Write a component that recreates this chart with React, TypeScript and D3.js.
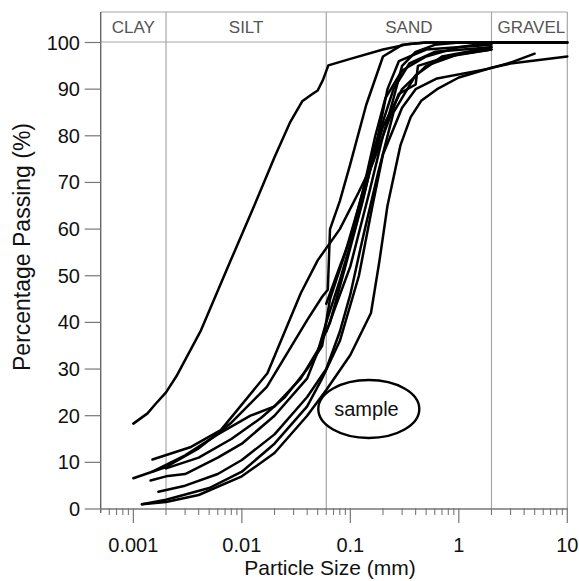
import React from "react";
import * as d3 from "d3";

type Pt = [number, number];

// Particle size (mm) / percentage passing pairs for each sample curve
const curveFine: Pt[] = [[0.001,18.3],[0.00135,20.5],[0.0016,22.5],[0.002,25],[0.0025,28.5],[0.0042,38.3],[0.0079,53.3],[0.013,65],[0.02,75.4],[0.028,83],[0.036,87.4],[0.045,89],[0.05,89.7],[0.056,92],[0.0627,95.1],[0.1,96.5],[0.2,98.5],[0.35,99.7],[0.5,100],[10,100]];
const curveB: Pt[] = [[0.0015,10.6],[0.0034,13.3],[0.0064,16.9],[0.0172,29.1],[0.035,46.3],[0.05,53.3],[0.08,60],[0.12,68],[0.16,74],[0.2,80],[0.25,88],[0.3,95],[0.4,98],[0.6,99.5],[1,100],[10,100]];
const curveC: Pt[] = [[0.001,6.6],[0.002,9],[0.004,13],[0.008,18.5],[0.017,26.2],[0.04,40.5],[0.055,45.5],[0.062,47],[0.065,60],[0.08,66],[0.1,74],[0.14,86.6],[0.2,97],[0.3,99.5],[0.5,100],[2,100]];
const curveE1: Pt[] = [[0.0012,1],[0.002,1.5],[0.004,3],[0.01,7],[0.02,12],[0.04,20],[0.06,25.5],[0.1,33],[0.155,42],[0.185,53],[0.22,65],[0.29,78],[0.36,84],[0.45,87.5],[0.63,90],[1,92.5],[2,94.6],[3,95.5],[10,97]];
const curveE2: Pt[] = [[0.0012,1],[0.002,2],[0.005,4.5],[0.01,8],[0.02,14],[0.04,22],[0.055,28],[0.08,36],[0.12,50],[0.16,65],[0.2,76],[0.3,86],[0.4,90],[0.63,92.3],[1.9,94.4],[3,95.7],[5,97.6]];
const curveE3: Pt[] = [[0.0017,3.7],[0.003,5],[0.006,7.5],[0.01,10.5],[0.02,16],[0.04,24],[0.06,30],[0.08,38],[0.1,46],[0.13,58],[0.18,72],[0.25,85],[0.4,93],[0.7,97],[2,99]];
const curveE4: Pt[] = [[0.00144,6.1],[0.002,7],[0.003,7.5],[0.006,11],[0.01,14],[0.02,20],[0.04,28],[0.05,33.7],[0.06,40],[0.08,49],[0.11,60],[0.15,72],[0.2,82],[0.3,90],[0.5,95],[1,97.5],[2,98.5]];
const curveE5: Pt[] = [[0.002,8.7],[0.004,11],[0.008,15],[0.015,19.5],[0.025,24],[0.04,30],[0.055,35],[0.065,45],[0.09,55],[0.12,65],[0.17,78],[0.25,90],[0.35,95.5],[0.6,98],[2,99]];
const curveE6: Pt[] = [[0.0015,8],[0.003,11.5],[0.006,16],[0.012,20],[0.02,22],[0.035,28],[0.05,34],[0.065,40],[0.09,52],[0.13,66],[0.18,80],[0.22,90],[0.28,96],[0.5,98.5],[2,99.5]];
const curveF1: Pt[] = [[0.06,44],[0.08,52],[0.1,58],[0.13,68],[0.17,80],[0.21,88],[0.3,94],[0.5,97],[1,99],[2,100],[10,100]];
const curveF2: Pt[] = [[0.06,38],[0.1,52],[0.15,68],[0.2,80],[0.28,89],[0.4,91],[0.42,95],[0.8,97],[2,98.5]];

const curves: Pt[][] = [curveFine, curveB, curveC, curveE1, curveE2, curveE3, curveE4, curveE5, curveE6, curveF1, curveF2];

const yTicks = [0, 10, 20, 30, 40, 50, 60, 70, 80, 90, 100];
const xMajorTicks = [0.001, 0.01, 0.1, 1, 10];
const xTickLabels = ["0.001", "0.01", "0.1", "1", "10"];
const classBounds = [0.002, 0.06, 2];
const classNames = ["CLAY", "SILT", "SAND", "GRAVEL"];
const classEdges = [0.0005, 0.002, 0.06, 2, 10];

export default function App() {
  const W = 579, H = 581;
  const left = 100.7, right = 567.3, top = 42.5, bottom = 509, headerTop = 12;
  const x = d3.scaleLog().domain([0.0005, 10]).range([left, right]);
  const y = d3.scaleLinear().domain([0, 100]).range([bottom, top]);
  const line = d3.line<Pt>().x(d => x(d[0])).y(d => y(d[1]));

  const minorTicks: number[] = [];
  for (let e = -4; e <= 0; e++) {
    for (let m = 2; m <= 9; m++) {
      const v = m * Math.pow(10, e);
      if (v > 0.0005 && v < 10) minorTicks.push(v);
    }
  }

  const font = "'Liberation Sans', Arial, Helvetica, sans-serif";
  const grid = "#a6a6a6";

  return (
    <svg width={W} height={H} style={{ position: "absolute", left: 0, top: 0, background: "#fff" }} fontFamily={font}>
      <rect x={0} y={0} width={W} height={H} fill="#fff" />
      {/* header box */}
      <line x1={left} x2={right} y1={headerTop} y2={headerTop} stroke={grid} strokeWidth={1.2} />
      <line x1={left} x2={right} y1={top - 0.5} y2={top - 0.5} stroke={grid} strokeWidth={1.2} />
      <line x1={right} x2={right} y1={headerTop} y2={bottom} stroke={grid} strokeWidth={1.2} />
      {classBounds.map((b, i) => (
        <line key={i} x1={x(b)} x2={x(b)} y1={headerTop} y2={bottom} stroke={grid} strokeWidth={1.2} />
      ))}
      {classNames.map((n, i) => (
        <text key={n} x={(x(classEdges[i]) + x(classEdges[i + 1])) / 2 + (i === 3 ? 2 : 0)} y={33} textAnchor="middle" fontSize={17} fill="#555">{n}</text>
      ))}
      {/* axes */}
      <line x1={left} x2={left} y1={headerTop} y2={bottom + 4} stroke="#666" strokeWidth={1.4} />
      <line x1={left} x2={right} y1={bottom} y2={bottom} stroke="#777" strokeWidth={1.4} />
      {yTicks.map(t => (
        <g key={t}>
          <line x1={left - 16} x2={left} y1={y(t)} y2={y(t)} stroke="#777" strokeWidth={1.2} />
          <text x={80} y={y(t) + 7} textAnchor="end" fontSize={20} fill="#111">{t}</text>
        </g>
      ))}
      {minorTicks.map((t, i) => (
        <line key={i} x1={x(t)} x2={x(t)} y1={bottom - 1} y2={bottom + 6} stroke="#777" strokeWidth={1.1} />
      ))}
      {xMajorTicks.map((t, i) => (
        <g key={t}>
          <line x1={x(t)} x2={x(t)} y1={bottom - 1} y2={bottom + 14} stroke="#777" strokeWidth={1.2} />
          <text x={x(t)} y={552} textAnchor="middle" fontSize={20} fill="#111">{xTickLabels[i]}</text>
        </g>
      ))}
      <text x={(left + right) / 2 - 4} y={575} textAnchor="middle" fontSize={21} fill="#111">Particle Size (mm)</text>
      <text transform={`translate(30, 247) rotate(-90)`} textAnchor="middle" fontSize={23} fill="#111">Percentage Passing (%)</text>
      {/* curves */}
      <g fill="none" stroke="#000" strokeWidth={2.5} strokeLinejoin="round" strokeLinecap="round">
        {curves.map((c, i) => <path key={i} d={line(c) || ""} />)}
      </g>
      {/* sample label */}
      <ellipse cx={368.8} cy={409} rx={50.5} ry={29} fill="#fff" stroke="#000" strokeWidth={2.4} />
      <text x={366.5} y={416} textAnchor="middle" fontSize={20} fill="#111">sample</text>
    </svg>
  );
}
